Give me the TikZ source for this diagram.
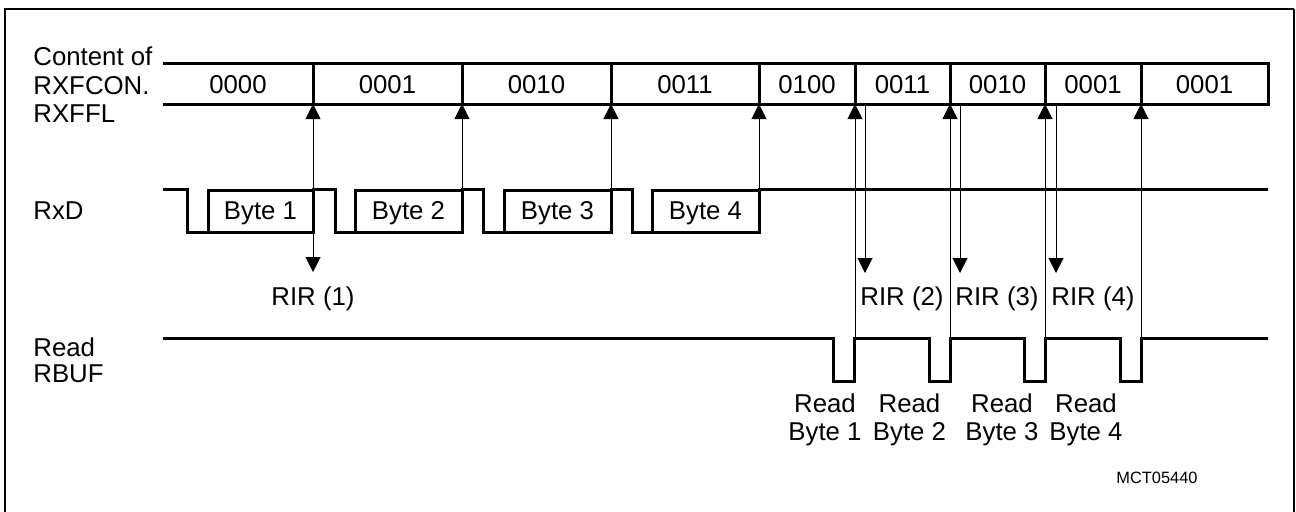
\documentclass[tikz,border=0pt]{standalone}
\usepackage{fontspec}
\setmainfont{Liberation Sans}
\usetikzlibrary{arrows.meta}
\begin{document}
\begin{tikzpicture}[x=0.5pt,y=-0.5pt,
  wave/.style={line width=1.5pt, line join=miter},
  sig/.style={line width=0.5pt, -{Triangle[width=7.5pt,length=7.5pt]}},
  sigboth/.style={line width=0.5pt, {Triangle[width=7.5pt,length=7.5pt]}-{Triangle[width=7.5pt,length=7.5pt]}},
  lbl/.style={inner sep=0pt, anchor=base, font=\fontsize{12.9}{15}\selectfont},
  lbw/.style={lbl, anchor=base west},
  small/.style={inner sep=0pt, anchor=base, font=\fontsize{8.2}{10}\selectfont}]
\useasboundingbox (0,0) rectangle (1296,511);
% frame
\draw[line width=1pt] (5,520) -- (5,9) -- (1294,9);
\draw[line width=0.6pt] (1294,9) -- (1294,520);
% left labels
\node[lbw] (l1) at (33,65) {Content of};
\node[lbw] (l2) at (33,94) {RXFCON.};
\node[lbw] (l3) at (33,122) {RXFFL};
\node[lbw] (l4) at (33,219) {RxD};
\node[lbw] (l5) at (33,356) {Read};
\node[lbw] (l6) at (33,382) {RBUF};
% bus
\draw[wave] (163,63) -- (1268,63) -- (1268,104) -- (163,104);
\foreach \x in {313,462,611,759,855,950,1045,1141} \draw[wave] (\x,63) -- (\x,104);
\foreach \x/\t/\n in {238/0000/1,387.5/0001/2,536.5/0010/3,685/0011/4,807/0100/5,902.5/0011/6,997.5/0010/7,1093/0001/8,1204.5/0001/9}
  \node[lbl] (c\n) at (\x,93) {\t};
% RxD waveform
\draw[wave] (163,189) -- (187,189) -- (187,232) -- (313,232) -- (313,189) -- (335,189) -- (335,232) -- (462,232) -- (462,189)
  -- (483,189) -- (483,232) -- (611,232) -- (611,189) -- (632,189) -- (632,232) -- (759,232) -- (759,189) -- (1268,189);
\draw[wave] (208,190) rectangle (313,232);
\draw[wave] (355,190) rectangle (462,232);
\draw[wave] (504,190) rectangle (611,232);
\draw[wave] (652,190) rectangle (759,232);
\node[lbl] (b1) at (260.5,219) {Byte 1};
\node[lbl] (b2) at (408.5,219) {Byte 2};
\node[lbl] (b3) at (557.5,219) {Byte 3};
\node[lbl] (b4) at (705.5,219) {Byte 4};
% RBUF waveform
\draw[wave] (163,338) -- (833,338) -- (833,381) -- (854,381) -- (854,338) -- (929,338) -- (929,381) -- (950,381) -- (950,338)
  -- (1024,338) -- (1024,381) -- (1045,381) -- (1045,338) -- (1120,338) -- (1120,381) -- (1141,381) -- (1141,338) -- (1268,338);
% arrow endpoints
\foreach \x/\n in {313/1,462/2,611/3,759/4,855/5,950/6,1045/7,1141/8} \coordinate (t\n) at (\x,104);
\coordinate (r1) at (313,272);
\coordinate (r2) at (462,189);
\coordinate (r3) at (611,189);
\coordinate (r4) at (759,189);
\coordinate (p5) at (855,338);
\coordinate (p6) at (950,338);
\coordinate (p7) at (1045,338);
\coordinate (p8) at (1141,338);
\coordinate (ds1) at (865,104);
\coordinate (de1) at (865,273);
\coordinate (ds2) at (960,104);
\coordinate (de2) at (960,273);
\coordinate (ds3) at (1056,104);
\coordinate (de3) at (1056,273);
% arrows
\draw[sigboth] (r1) -- (t1);
\draw[sig] (r2) -- (t2);
\draw[sig] (r3) -- (t3);
\draw[sig] (r4) -- (t4);
\draw[sig] (p5) -- (t5);
\draw[sig] (p6) -- (t6);
\draw[sig] (p7) -- (t7);
\draw[sig] (p8) -- (t8);
\draw[sig] (ds1) -- (de1);
\draw[sig] (ds2) -- (de2);
\draw[sig] (ds3) -- (de3);
% RIR labels
\node[lbl] (i1) at (313,305) {RIR (1)};
\node[lbl] (i2) at (902,305) {RIR (2)};
\node[lbl] (i3) at (997,305) {RIR (3)};
\node[lbl] (i4) at (1093,305) {RIR (4)};
% Read Byte labels
\foreach \x/\n in {825/1,909.5/2,1002/3,1086/4} {
  \node[lbl] (ra\n) at (\x,412) {Read};
  \node[lbl] (rb\n) at (\x,440) {Byte \n};
}
\node[small] (id) at (1157,483) {MCT05440};
\end{tikzpicture}
\end{document}
